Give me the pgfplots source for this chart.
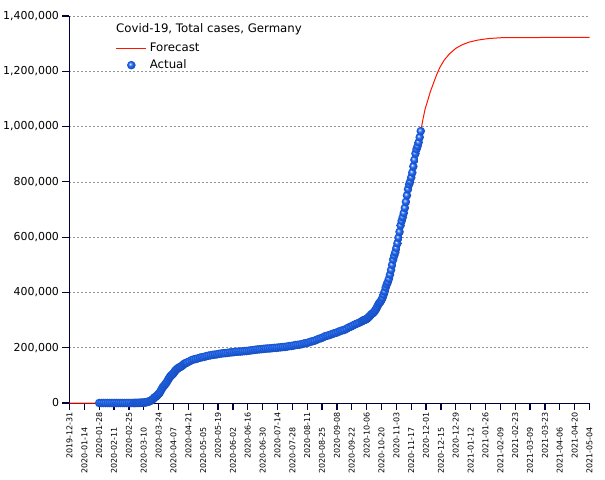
\documentclass[border=0pt]{standalone}
\usepackage{pgfplots}
\pgfplotsset{compat=1.18}
\usepackage{pgfplotstable}
\usepackage{fontspec}
\setmainfont{DejaVu Sans}

\definecolor{axisnavy}{RGB}{0,0,64}
\definecolor{bb}{RGB}{30,100,240}
\definecolor{gridgray}{RGB}{150,150,150}
\definecolor{fcred}{RGB}{255,20,0}

% blue sphere marker
\pgfdeclareradialshading{bball}{\pgfqpoint{-8bp}{8bp}}{%
  color(0bp)=(white); color(4bp)=(bb!45!white); color(12bp)=(bb);
  color(24bp)=(bb!80!black); color(36bp)=(bb!45!black); color(50bp)=(bb!40!black)}
\pgfdeclareplotmark{bball}{%
  \pgfpathcircle{\pgfpointorigin}{\pgfplotmarksize}%
  \pgfshadepath{bball}{0}%
  \pgfusepath{}}

% every second date label sits lower
\newcommand{\low}[1]{#1\rule{15bp}{0pt}}

% day 0 = 2019-12-31
\pgfplotstableread{
day cases
28 4
30 5
32 8
34 12
36 12
38 13
40 14
42 16
44 16
46 16
48 16
50 16
52 16
54 16
56 18
58 27
60 79
61 130
62 159
63 196
64 262
65 482
66 670
67 799
68 1040
69 1176
70 1457
71 1908
72 2078
73 3675
74 4585
75 5795
76 7272
77 9257
78 12327
79 15320
80 19848
81 22213
82 24873
83 29056
84 32986
85 37323
86 43938
87 50871
88 57695
89 62095
90 66885
91 71808
92 77872
93 84794
94 91159
95 96092
96 100123
97 103374
98 107663
99 113296
100 118181
101 122171
102 124908
103 127854
104 130072
105 131359
106 134753
107 137698
108 141397
109 143342
110 145184
111 147065
113 150648
115 154999
117 157641
119 159119
121 161539
123 164077
125 165664
127 167007
129 169575
131 171324
133 172576
135 174098
137 175233
139 176007
141 177778
143 179021
145 179986
147 180458
149 181482
151 182764
153 183271
155 184121
157 185416
159 185750
161 186269
163 186839
165 187764
167 188252
169 189135
171 190359
173 191449
175 192480
177 193499
179 194259
181 194725
183 195893
185 196780
187 197198
189 197523
191 198556
193 199375
195 199726
197 200843
199 201450
201 202345
203 202799
205 204183
207 205609
209 206242
211 207707
213 209653
215 210402
217 211281
219 213067
221 215336
223 216327
225 218519
227 221413
229 223453
231 225404
233 228621
235 232082
237 234494
239 237936
241 241771
243 243599
245 245703
247 248997
249 251728
251 253474
253 256850
255 260355
257 262507
259 264375
261 268439
263 273254
265 275927
267 280223
269 284140
271 287421
273 290471
275 294395
276 296958
277 299237
278 300619
279 301573
280 304258
281 307127
282 311137
283 314660
284 319381
285 322864
286 325331
287 329453
288 334585
289 341223
290 348557
291 356387
292 361974
293 366299
294 373167
295 380762
296 392049
297 403291
298 418005
299 429181
300 437866
301 449275
302 464239
303 481013
304 499694
305 518753
306 532930
307 545027
308 560379
309 577593
310 597583
311 619089
312 642488
313 658505
314 671868
315 687200
316 705687
317 727553
318 751095
319 773556
320 790503
321 801327
322 815746
323 833307
324 855916
325 879564
326 902528
327 918269
328 929133
329 942687
330 961320
331 983588
}\actual

\pgfplotstableread{
day cases
0 0
28 4
61 130
70 1457
80 19848
90 66885
101 122171
121 161539
153 183271
183 195893
213 209653
245 245703
275 294395
294 373167
306 532930
315 687200
325 879564
331 983588
333 1025000
335 1062000
338 1100000
340 1126000
343 1157000
346 1188000
349 1214000
353 1240000
358 1263000
364 1283000
370 1296000
377 1306000
385 1313000
395 1318500
409 1322000
490 1322500
}\forecast

\pgfplotsset{
  fcimage/.style={legend image code/.code={\draw[##1] (0bp,0bp) -- (30bp,0bp);}},
  acimage/.style={legend image code/.code={\draw[##1] plot coordinates {(15bp,0bp)};}},
}

\begin{document}
\begin{tikzpicture}
\path[use as bounding box] (-69.5bp,-77bp) rectangle (535.5bp,403bp);
\begin{axis}[
  at={(0,0)}, anchor=south west,
  scale only axis, width=520bp, height=387bp,
  xmin=0, xmax=490, ymin=0, ymax=1400000,
  clip=false,
  axis x line*=bottom, axis y line*=left,
  axis line style={draw=axisnavy, line width=1bp},
  major tick style={draw=axisnavy, line width=1.2bp},
  tick align=outside,
  major tick length=7bp,
  ymajorgrids,
  major grid style={gridgray, dash pattern=on 2bp off 2bp, line width=0.6bp},
  ytick={0,200000,...,1400000},
  scaled y ticks=false,
  yticklabel style={font=\fontsize{11}{13}\selectfont, black},
  yticklabel={\pgfmathprintnumber[fixed, 1000 sep={,}, assume math mode=true]{\tick}},
  xtick={0,14,...,490},
  xticklabels={2019-12-31,\low{2020-01-14},2020-01-28,\low{2020-02-11},
    2020-02-25,\low{2020-03-10},2020-03-24,\low{2020-04-07},
    2020-04-21,\low{2020-05-05},2020-05-19,\low{2020-06-02},
    2020-06-16,\low{2020-06-30},2020-07-14,\low{2020-07-28},
    2020-08-11,\low{2020-08-25},2020-09-08,\low{2020-09-22},
    2020-10-06,\low{2020-10-20},2020-11-03,\low{2020-11-17},
    2020-12-01,\low{2020-12-15},2020-12-29,\low{2021-01-12},
    2021-01-26,\low{2021-02-09},2021-02-23,\low{2021-03-09},
    2021-03-23,\low{2021-04-06},2021-04-20,\low{2021-05-04}},
  xticklabel style={rotate=90, anchor=east, black, inner sep=2bp,
    font=\fontsize{8}{9}\selectfont},
  legend style={at={(0.083,0.94)}, anchor=north west, draw=none, fill=none,
    font=\fontsize{11.8}{14}\selectfont, row sep=2.5bp,
    /tikz/every odd column/.append style={column sep=1bp}},
  legend cell align=left,
]
\addplot[fcred, line width=1bp, no marks, fcimage]
  table[x=day, y=cases] {\forecast};
\addlegendentry{Forecast}
\addplot[only marks, mark=bball, mark size=4.3bp, acimage]
  table[x=day, y=cases] {\actual};
\addlegendentry{Actual}
\node[anchor=west, font=\fontsize{11.8}{14}\selectfont, inner sep=0pt]
  at (rel axis cs:0.0894,0.966) {Covid-19, Total cases, Germany};
\end{axis}
\end{tikzpicture}
\end{document}
